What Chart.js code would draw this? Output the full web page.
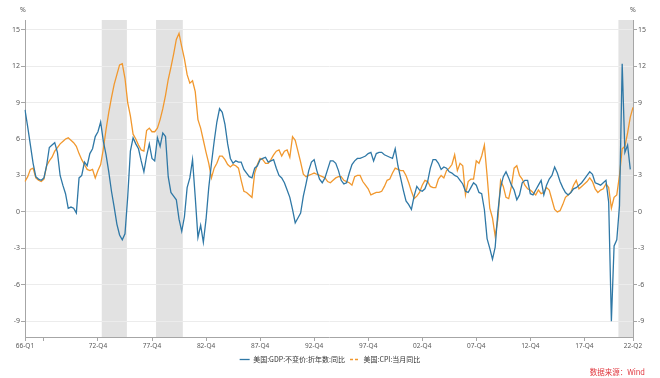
<!DOCTYPE html>
<html>
<head>
<meta charset="utf-8">
<script src="https://cdn.jsdelivr.net/npm/chart.js@4.4.1/dist/chart.umd.min.js"></script>
<style>
  html, body { margin: 0; padding: 0; background: #fff; }
  #wrap { width: 660px; height: 378px; }
</style>
</head>
<body>
<div id="wrap"><canvas id="chart" width="660" height="378"></canvas></div>
<script>
// quarters 66-Q1 .. 22-Q2
const START_YEAR = 1966
const QUARTER_COUNT = 226
const X_TICK_INDEX = [0, 7, 27, 47, 67, 87, 107, 127, 147, 167, 187, 207, 225]
const X_TICK_BLANK = [7]
const Y_TICKS = [-9, -6, -3, 0, 3, 6, 9, 12, 15]
const Y_MIN = -10.3
const Y_MAX = 15.8
// shaded periods, in quarter index units
const SHADED = [[28.4, 37.7], [48.5, 58.4], [219.6, 225]]

const GDP_NAME = '美国:GDP:不变价:折年数:同比'
const CPI_NAME = '美国:CPI:当月同比'

const GDP_YOY = [
  8.4, 7.0, 5.5, 4.0, 2.9, 2.7, 2.6, 2.8, 3.8, 5.3, 5.5, 5.7, 4.9, 3.0, 2.2, 1.5,
  0.3, 0.4, 0.3, -0.1, 2.8, 3.0, 4.1, 3.8, 4.8, 5.2, 6.2, 6.6, 7.4, 5.8, 4.7, 3.3,
  1.7, 0.4, -1.0, -1.9, -2.3, -1.8, 1.2, 5.0, 6.1, 5.6, 5.2, 4.2, 3.3, 4.6, 5.6, 4.4,
  4.2, 6.1, 5.4, 6.5, 6.2, 2.9, 1.6, 1.3, 1.0, -0.6, -1.6, -0.4, 2.0, 2.8, 4.3, 1.2,
  -2.1, -1.1, -2.5, -0.6, 2.0, 4.0, 5.8, 7.4, 8.5, 8.2, 7.2, 5.6, 4.4, 4.0, 4.2, 4.1,
  4.1, 3.5, 3.2, 2.9, 2.8, 3.6, 3.8, 4.3, 4.4, 4.5, 4.1, 4.2, 4.3, 3.6, 3.0, 2.8,
  2.4, 1.8, 1.2, 0.2, -0.9, -0.5, -0.1, 1.3, 2.3, 3.4, 4.1, 4.3, 3.4, 2.7, 2.4, 2.8,
  3.5, 4.2, 4.2, 4.0, 3.4, 2.6, 2.3, 2.4, 3.2, 3.9, 4.2, 4.4, 4.4, 4.5, 4.6, 4.8,
  4.9, 4.2, 4.8, 4.9, 4.9, 4.7, 4.6, 4.5, 4.4, 5.2, 3.8, 2.8, 1.8, 0.9, 0.6, 0.2,
  1.3, 2.1, 1.8, 1.7, 1.9, 2.5, 3.6, 4.3, 4.3, 4.0, 3.5, 3.7, 3.6, 3.3, 3.2, 3.0,
  2.9, 2.6, 2.3, 1.7, 1.6, 2.0, 2.4, 2.2, 1.6, 1.5, 0.2, -2.2, -3.0, -3.9, -2.9, 0.0,
  2.0, 2.9, 3.3, 2.8, 2.2, 1.8, 1.0, 1.4, 2.4, 2.6, 2.6, 1.5, 1.4, 1.8, 2.2, 2.6,
  1.4, 2.2, 2.7, 3.0, 3.7, 3.2, 2.5, 2.0, 1.6, 1.4, 1.6, 1.9, 2.0, 2.2, 2.4, 2.7,
  3.0, 3.3, 3.1, 2.4, 2.3, 2.2, 2.4, 2.6, 0.8, -9.0, -2.8, -2.3, 0.5, 12.2, 4.9, 5.5,
  3.5, null,
]

const CPI_YOY = [
  2.5, 2.9, 3.5, 3.6, 2.8, 2.6, 2.5, 2.7, 3.8, 4.2, 4.5, 5.0, 5.3, 5.6, 5.8, 6.0,
  6.1, 5.9, 5.7, 5.4, 4.8, 4.3, 3.9, 3.5, 3.4, 3.5, 2.8, 3.4, 3.9, 5.2, 6.8, 8.2,
  9.4, 10.5, 11.3, 12.1, 12.2, 11.0, 9.0, 7.9, 6.4, 6.0, 5.5, 5.1, 5.0, 6.7, 6.9, 6.6,
  6.6, 6.9, 7.6, 8.5, 9.6, 10.9, 11.9, 13.0, 14.2, 14.7, 13.6, 12.6, 11.3, 10.6, 10.8, 9.9,
  7.6, 6.9, 5.9, 4.9, 4.0, 2.8, 3.6, 4.0, 4.6, 4.6, 4.3, 3.9, 3.7, 3.9, 3.8, 3.6,
  2.6, 1.7, 1.6, 1.4, 1.2, 3.2, 3.9, 4.4, 4.3, 4.0, 4.0, 4.3, 4.7, 5.0, 5.1, 4.6,
  5.0, 5.1, 4.5, 6.2, 5.9, 5.0, 4.1, 3.1, 2.9, 3.0, 3.1, 3.2, 3.1, 3.0, 2.9, 2.8,
  2.5, 2.4, 2.6, 2.8, 2.9, 2.9, 2.6, 2.5, 2.4, 2.2, 2.9, 3.0, 3.0, 2.5, 2.2, 1.9,
  1.4, 1.5, 1.6, 1.6, 1.7, 2.1, 2.6, 2.7, 3.2, 3.6, 3.5, 3.4, 3.4, 3.0, 2.4, 1.7,
  1.1, 1.3, 1.6, 2.2, 2.6, 2.5, 2.1, 2.0, 2.0, 2.7, 3.0, 2.8, 3.4, 3.6, 3.9, 4.7,
  3.4, 4.0, 3.8, 1.4, 2.5, 2.7, 2.7, 4.2, 4.0, 4.6, 5.5, 3.0, 0.3, -0.5, -2.0, -0.6,
  2.6, 2.1, 1.2, 1.1, 2.1, 3.6, 3.8, 3.0, 2.7, 2.2, 1.9, 1.8, 1.6, 1.4, 1.8, 1.5,
  1.6, 2.0, 1.8, 1.0, 0.2, 0.0, 0.1, 0.6, 1.2, 1.4, 1.6, 2.2, 2.6, 1.9, 2.1, 2.3,
  2.5, 2.8, 2.5, 1.9, 1.6, 1.8, 1.9, 2.3, 2.0, 0.3, 1.2, 1.4, 3.0, 5.2, 5.4, 6.5,
  7.8, 8.6,
]

const BLUE = '#2f78a6'
const ORANGE = '#f1982e'
const SHADE = '#e2e2e2'
const AXIS_GREY = '#a6a6a6'
const TEXT_GREY = '#595959'
const CJK_FONT = '"Noto Sans CJK SC", "Noto Sans", sans-serif'
const LATIN_FONT = '"Noto Sans", "Open Sans", sans-serif'

const quarterLabels = []
for (let i = 0; i < QUARTER_COUNT; i++) {
  const year = START_YEAR + Math.floor(i / 4)
  quarterLabels.push(`${String(year).slice(2)}-Q${(i % 4) + 1}`)
}

const shadePlugin = {
  id: 'shade',
  beforeDraw(chart) {
    const { ctx, chartArea, scales } = chart
    ctx.save()
    ctx.fillStyle = SHADE
    SHADED.forEach(([from, to]) => {
      const x0 = scales.x.getPixelForValue(from)
      const x1 = scales.x.getPixelForValue(to)
      ctx.fillRect(x0, chartArea.top, x1 - x0, chartArea.bottom - chartArea.top)
    })
    ctx.restore()
  },
}

const textPlugin = {
  id: 'extraText',
  afterDraw(chart) {
    const { ctx, scales } = chart
    ctx.save()
    ctx.fillStyle = TEXT_GREY
    ctx.font = `7px ${LATIN_FONT}`
    ctx.textAlign = 'center'
    ctx.textBaseline = 'middle'
    ctx.fillText('%', scales.y.right - 2, 10)
    ctx.fillText('%', scales.y1.left, 10)
    ctx.fillStyle = '#e0353d'
    ctx.font = `7.5px ${CJK_FONT}`
    ctx.textAlign = 'right'
    ctx.fillText('数据来源：Wind', 645, 372)
    ctx.restore()
  },
}

const yAxis = (position, width, showGrid) => ({
  position,
  min: Y_MIN,
  max: Y_MAX,
  afterBuildTicks: (scale) => {
    scale.ticks = Y_TICKS.map((value) => ({ value }))
  },
  afterFit: (scale) => {
    scale.width = width
  },
  grid: {
    drawOnChartArea: showGrid,
    color: '#ececec',
    tickColor: AXIS_GREY,
    tickLength: 4,
  },
  border: { color: AXIS_GREY },
  ticks: {
    padding: 1,
    color: TEXT_GREY,
    font: { size: 7, family: LATIN_FONT },
  },
})

new Chart(document.getElementById('chart'), {
  type: 'line',
  data: {
    labels: quarterLabels,
    datasets: [
      {
        label: GDP_NAME,
        data: GDP_YOY,
        borderColor: BLUE,
        backgroundColor: BLUE,
        borderWidth: 1.3,
        pointRadius: 0,
        yAxisID: 'y',
      },
      {
        label: CPI_NAME,
        data: CPI_YOY,
        borderColor: ORANGE,
        backgroundColor: ORANGE,
        borderWidth: 1.3,
        pointRadius: 0,
        yAxisID: 'y',
      },
    ],
  },
  options: {
    responsive: false,
    animation: false,
    layout: { padding: { top: 20, bottom: 5 } },
    scales: {
      x: {
        type: 'category',
        offset: false,
        afterBuildTicks: (scale) => {
          scale.ticks = X_TICK_INDEX.map((value) => ({ value }))
        },
        afterFit: (scale) => {
          scale.height = 14
        },
        grid: {
          drawOnChartArea: false,
          color: AXIS_GREY,
          tickLength: 4,
        },
        border: { color: AXIS_GREY },
        ticks: {
          autoSkip: false,
          maxRotation: 0,
          padding: 1,
          color: TEXT_GREY,
          font: { size: 6.5, family: LATIN_FONT },
          callback: (value) => (X_TICK_BLANK.includes(value) ? '' : quarterLabels[value]),
        },
      },
      y: yAxis('left', 25, true),
      y1: yAxis('right', 27, false),
    },
    plugins: {
      legend: {
        position: 'bottom',
        labels: {
          color: '#333',
          font: { size: 7, family: CJK_FONT },
          usePointStyle: true,
          pointStyle: 'line',
          pointStyleWidth: 10,
          boxHeight: 7,
          padding: 5,
          generateLabels: (chart) => {
            const items = Chart.defaults.plugins.legend.labels.generateLabels(chart)
            items[1].lineDash = [3, 2]
            return items
          },
        },
      },
      tooltip: { enabled: false },
    },
  },
  plugins: [shadePlugin, textPlugin],
})
</script>
</body>
</html>
